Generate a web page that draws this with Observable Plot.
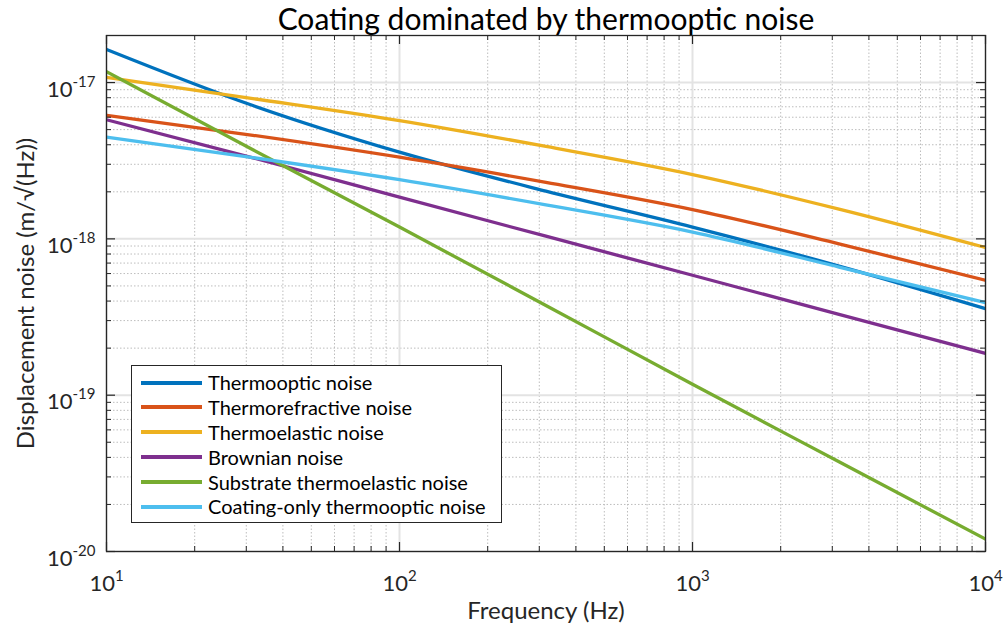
<!DOCTYPE html>
<html>
<head>
<meta charset="utf-8">
<script src="https://cdn.jsdelivr.net/npm/d3@7"></script>
<script src="https://cdn.jsdelivr.net/npm/@observablehq/plot@0.6"></script>
<style>
  html, body { margin: 0; padding: 0; background: #fff; }
  #wrap { position: relative; width: 1007px; height: 628px; font-family: Lato, "Open Sans", sans-serif; }
  #legend { position: absolute; left: 131px; top: 365px; width: 371px; height: 158px; border: 1.3px solid #262626; background: #fff; box-sizing: border-box; padding-top: 4px; }
  .row { position: relative; height: 24.9px; }
  .row .sw { position: absolute; left: 9px; top: 10.5px; width: 61px; height: 4px; }
  .row .lb { position: absolute; left: 76px; top: 0; line-height: 24.9px; font-size: 20px; color: #000; white-space: nowrap; }
</style>
</head>
<body>
<div id="wrap"></div>
<script>
const freq = [10, 31.6, 100, 316, 1000, 3162, 10000];
const thermooptic      = [1.63e-17, 7.13e-18, 3.59e-18, 2.02e-18, 1.19e-18, 6.7e-19, 3.58e-19];
const thermorefractive = [6.18e-18, 4.6e-18, 3.33e-18, 2.3e-18, 1.54e-18, 9.3e-19, 5.43e-19];
const thermoelastic    = [1.08e-17, 7.9e-18, 5.71e-18, 3.9e-18, 2.58e-18, 1.55e-18, 8.8e-19];
const brownian         = [5.78e-18, 3.3e-18, 1.85e-18, 1.04e-18, 5.85e-19, 3.29e-19, 1.85e-19];
const substrate        = [1.175e-17, 3.72e-18, 1.19e-18, 3.75e-19, 1.175e-19, 3.75e-20, 1.2e-20];
const coatingOnly      = [4.48e-18, 3.31e-18, 2.39e-18, 1.65e-18, 1.105e-18, 6.6e-19, 3.91e-19];

const seriesNames = ["Thermooptic noise", "Thermorefractive noise", "Thermoelastic noise",
  "Brownian noise", "Substrate thermoelastic noise", "Coating-only thermooptic noise"];
const seriesValues = [thermooptic, thermorefractive, thermoelastic, brownian, substrate, coatingOnly];
const seriesColors = ["#0072BD", "#D95319", "#EDB120", "#7E2F8E", "#77AC30", "#4DBEEE"];

const xTicks = [10, 100, 1000, 10000];
const yTicks = [1e-20, 1e-19, 1e-18, 1e-17];
const title = "Coating dominated by thermooptic noise";
const xLabel = "Frequency (Hz)";
const yLabel = "Displacement noise (m/\u221A(Hz))";

const data = [];
seriesNames.forEach((name, i) => freq.forEach((f, j) => data.push({series: name, f, v: seriesValues[i][j]})));

const xMinor = [];
for (const d of xTicks.slice(0, -1)) for (let k = 2; k <= 9; k++) xMinor.push(d * k);
const yMinor = [];
for (const d of yTicks) for (let k = 2; k <= 9; k++) if (d * k < 1.99e-17) yMinor.push(d * k);

const W = 1007, H = 628, mL = 106, mR = 22, mT = 35, mB = 77;
const fw = W - mL - mR, fh = H - mT - mB;
const tickColor = "#262626";

const chart = Plot.plot({
  width: W, height: H,
  marginLeft: mL, marginRight: mR, marginTop: mT, marginBottom: mB,
  style: {fontFamily: "Lato, 'Open Sans', sans-serif", background: "white", overflow: "visible"},
  x: {type: "log", domain: [10, 1e4]},
  y: {type: "log", domain: [1e-20, 2e-17]},
  color: {domain: seriesNames, range: seriesColors},
  marks: [
    Plot.ruleX(xMinor, {x: d => d, stroke: "#bdbdbd", strokeWidth: 1, strokeDasharray: "1.5,2"}),
    Plot.ruleY(yMinor, {y: d => d, stroke: "#bdbdbd", strokeWidth: 1, strokeDasharray: "1.5,2"}),
    Plot.ruleX(xTicks, {x: d => d, stroke: "#e3e3e3", strokeWidth: 2}),
    Plot.ruleY(yTicks, {y: d => d, stroke: "#e3e3e3", strokeWidth: 2}),
    Plot.line(data, {x: "f", y: "v", z: "series", stroke: "series", strokeWidth: 3.3, curve: "monotone-x", clip: true}),
    Plot.tickX(xTicks, {x: d => d, insetTop: fh - 9, stroke: tickColor, strokeWidth: 1.2}),
    Plot.tickX(xTicks, {x: d => d, insetBottom: fh - 9, stroke: tickColor, strokeWidth: 1.2}),
    Plot.tickX(xMinor, {x: d => d, insetTop: fh - 5, stroke: tickColor, strokeWidth: 1}),
    Plot.tickX(xMinor, {x: d => d, insetBottom: fh - 5, stroke: tickColor, strokeWidth: 1}),
    Plot.tickY(yTicks, {y: d => d, insetRight: fw - 9, stroke: tickColor, strokeWidth: 1.2}),
    Plot.tickY(yTicks, {y: d => d, insetLeft: fw - 9, stroke: tickColor, strokeWidth: 1.2}),
    Plot.tickY(yMinor, {y: d => d, insetRight: fw - 5, stroke: tickColor, strokeWidth: 1}),
    Plot.tickY(yMinor, {y: d => d, insetLeft: fw - 5, stroke: tickColor, strokeWidth: 1}),
    Plot.frame({stroke: tickColor, strokeWidth: 1.3}),
    Plot.axisX({ticks: xTicks, tickSize: 0, tickPadding: 24, fontSize: 22, fill: tickColor,
      tickFormat: d => "10^" + Math.round(Math.log10(d)), label: null}),
    Plot.axisY({ticks: yTicks, tickSize: 0, tickPadding: 11, dy: 7, fontSize: 22, fill: tickColor,
      tickFormat: d => "10^" + Math.round(Math.log10(d)), label: null}),
    Plot.text([title], {frameAnchor: "top", lineAnchor: "middle", textAnchor: "middle", dy: -15, fontSize: 30, fill: "#000"}),
    Plot.text([xLabel], {frameAnchor: "bottom", lineAnchor: "middle", textAnchor: "middle", dy: 60, fontSize: 24, fill: tickColor}),
    Plot.text([yLabel], {frameAnchor: "left", lineAnchor: "middle", textAnchor: "middle", rotate: -90, dx: -80, fontSize: 24, fill: tickColor})
  ]
});

// superscript exponents
chart.querySelectorAll("text").forEach(t => {
  const m = /^10\^(.+)$/.exec(t.textContent);
  if (!m) return;
  t.textContent = "";
  const ns = "http://www.w3.org/2000/svg";
  const a = document.createElementNS(ns, "tspan"); a.textContent = "10";
  const b = document.createElementNS(ns, "tspan"); b.textContent = m[1];
  b.setAttribute("dy", "-10"); b.setAttribute("font-size", "15");
  t.appendChild(a); t.appendChild(b);
});

const wrap = document.getElementById("wrap");
wrap.appendChild(chart);

const legend = document.createElement("div");
legend.id = "legend";
seriesNames.forEach((name, i) => {
  const row = document.createElement("div"); row.className = "row";
  const sw = document.createElement("div"); sw.className = "sw"; sw.style.background = seriesColors[i];
  const lb = document.createElement("div"); lb.className = "lb"; lb.textContent = name;
  row.appendChild(sw); row.appendChild(lb); legend.appendChild(row);
});
wrap.appendChild(legend);
</script>
</body>
</html>
